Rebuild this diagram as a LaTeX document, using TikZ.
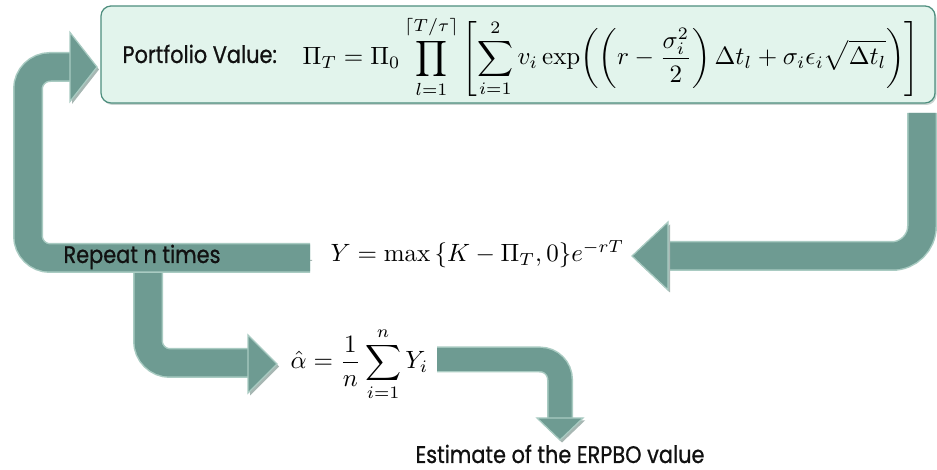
\documentclass[tikz,border=0pt]{standalone}
\usepackage{amsmath}
\usepackage{fontspec}
\newfontfamily\slidefont[FakeStretch=0.87,FakeBold=0.8]{Poppins}
\usepackage{xcolor}
\usepackage{tikz}
\usetikzlibrary{calc}
\definecolor{sage}{HTML}{6E9B92}
\definecolor{rim}{HTML}{A9CBC2}
\definecolor{shade}{HTML}{A7B7B3}
\definecolor{mint}{HTML}{E2F4EC}
\definecolor{edge}{HTML}{4E8E7E}
\definecolor{ink}{HTML}{111111}

\begin{document}
\begin{tikzpicture}[x=0.4pt,y=-0.4pt,
  panelbox/.style={draw=edge,fill=mint,rounded corners=4pt,line width=0.5pt,minimum width=333.6pt,minimum height=38.8pt,inner sep=0pt,
    preaction={fill=shade!60,transform canvas={shift={(0.6pt,-0.8pt)}}}},
  lbl/.style={font=\slidefont\fontsize{9.6}{11}\selectfont,color=ink,inner sep=0pt,anchor=base west},
  eq/.style={inner sep=0pt,anchor=base west},
  band/.style={draw=rim,line width=#1,rounded corners=8.8pt,
    preaction={draw=shade,transform canvas={shift={(0.8pt,-1pt)}}},
    postaction={draw=sage,line width=#1-1.2pt}},
  band/.default=12pt,
  head/.style={fill=sage,draw=rim,line width=0.5pt,preaction={fill=shade,transform canvas={shift={(0.8pt,-1pt)}}}}]
  \useasboundingbox (0,0) rectangle (937,470);
  \node[panelbox] (pv) at (518,54.5) {};
  % arrows
  \coordinate (a2s) at (148,262); \coordinate (a2t) at (277,364);
  \draw[band] (a2s) -- (148,363) -- ($(a2t)+(-29,-1)$);
  \filldraw[head] ($(a2t)+(-29,-29)$) -- (a2t) -- ($(a2t)+(-29,29)$) -- cycle;
  \coordinate (a1s) at (310,258); \coordinate (a1t) at (97,67);
  \draw[band] (a1s) -- (28,258) -- (28,67) -- ($(a1t)+(-27,0)$);
  \filldraw[head] ($(a1t)+(-27,-34.5)$) -- (a1t) -- ($(a1t)+(-27,34.5)$) -- cycle;
  \coordinate (a3s) at (437,359.5); \coordinate (a3t) at (560,440);
  \draw[band=10.4pt,rounded corners=8pt] (a3s) -- (560,359.5) -- ($(a3t)+(0,-22)$);
  \filldraw[head] ($(a3t)+(-23,-22)$) -- (a3t) -- ($(a3t)+(23,-22)$) -- cycle;
  \coordinate (a4s) at (922,113); \coordinate (a4t) at (632,256);
  \draw[band,rounded corners=12pt] (a4s) -- (922,256) -- ($(a4t)+(36,0)$);
  \filldraw[head] ($(a4t)+(36,-34)$) -- (a4t) -- ($(a4t)+(36,34)$) -- cycle;
  % texts
  \node[lbl] (pvl) at (122,63) {Portfolio Value:};
  \node[eq] (pvf) at (302,65) {$\displaystyle \Pi_T=\Pi_0\prod_{l=1}^{\lceil T/\tau\rceil}\left[\sum_{i=1}^{2}v_i\exp\biggl(\biggl(r-\frac{\sigma_i^2}{2}\biggr)\,\Delta t_l+\sigma_i\epsilon_i\sqrt{\Delta t_l}\biggr)\right]$};
  \node[eq] (pay) at (330,262) {$Y=\max\,\{K-\Pi_T,0\}e^{-rT}$};
  \node[eq] (est) at (290,369) {$\displaystyle\hat{\alpha}=\frac{1}{n}\sum_{i=1}^{n}Y_i$};
  \node[lbl] (rep) at (63,263) {Repeat n times};
  \node[lbl] (erp) at (415,463) {Estimate of the ERPBO value};
\end{tikzpicture}
\end{document}
